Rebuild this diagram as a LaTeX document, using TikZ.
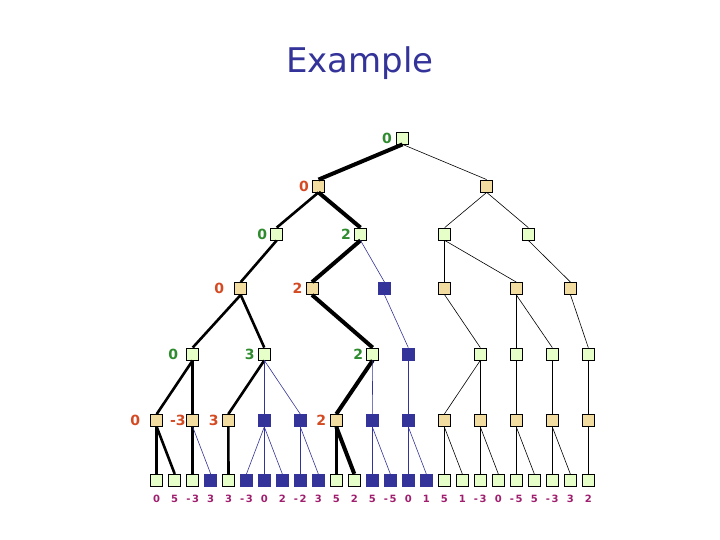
\documentclass[tikz,border=0pt]{standalone}
\usepackage{fontspec}
\setmainfont{DejaVu Sans}
\usepackage{tikz}
\usetikzlibrary{positioning}
\usepackage{xcolor}

\definecolor{navy}{HTML}{333399}
\definecolor{boxgreen}{HTML}{E6FFC8}
\definecolor{boxtan}{HTML}{F2DCA0}
\definecolor{valgreen}{HTML}{2E8B2E}
\definecolor{valred}{HTML}{D44A22}
\definecolor{valpurple}{HTML}{A01E6E}

\tikzset{
	box/.style={rectangle,draw,line width=0.8pt,minimum size=12pt,inner sep=0pt},
	gbox/.style={box,fill=boxgreen},
	tbox/.style={box,fill=boxtan},
	nbox/.style={box,draw=navy,fill=navy},
	gval/.style={inner sep=0pt,text=valgreen,font=\fontsize{14}{14}\selectfont\bfseries},
	rval/.style={inner sep=0pt,text=valred,font=\fontsize{14}{14}\selectfont\bfseries},
	lval/.style={inner sep=0pt,text=valpurple,font=\fontsize{10}{10}\selectfont\bfseries},
	weak/.style={line width=0.6pt},
	pruned/.style={line width=0.6pt,navy},
	strong/.style={line width=2.6pt},
	best/.style={line width=4pt}
}

\begin{document}
\begin{tikzpicture}[x=1pt,y=-1pt]
	\useasboundingbox (0,0) rectangle (720,540);
	\node[anchor=base,text=navy,font=\fontsize{34}{34}\selectfont] (title) at (360,73) {Example};

	% max and min levels of the tree
	\node[gbox] (n0) at (402.5,138) {};
	\node[tbox] (n1a) at (318.5,186) {};
	\node[tbox] (n1b) at (486.7,186) {};
	\node[gbox] (n2a) at (276.7,234) {};
	\node[gbox] (n2b) at (360.5,234) {};
	\node[gbox] (n2c) at (444.7,234) {};
	\node[gbox] (n2d) at (528.3,234) {};
	\node[tbox] (n3a) at (240.7,288.5) {};
	\node[tbox] (n3b) at (312,288.5) {};
	\node[nbox] (n3c) at (384.5,288.5) {};
	\node[tbox] (n3d) at (444.7,288.5) {};
	\node[tbox] (n3e) at (516.3,288.5) {};
	\node[tbox] (n3f) at (570.5,288.5) {};
	\node[gbox] (n4a) at (192.7,354) {};
	\node[gbox] (n4b) at (264.3,354) {};
	\node[gbox] (n4c) at (372.7,354) {};
	\node[nbox] (n4d) at (408.3,354) {};
	\node[gbox] (n4e) at (480.3,354) {};
	\node[gbox] (n4f) at (516.3,354) {};
	\node[gbox] (n4g) at (552.3,354) {};
	\node[gbox] (n4h) at (588.3,354) {};
	\node[tbox] (n5a) at (156.7,420.5) {};
	\node[tbox] (n5b) at (192.7,420.5) {};
	\node[tbox] (n5c) at (228.3,420.5) {};
	\node[nbox] (n5d) at (264.3,420.5) {};
	\node[nbox] (n5e) at (300.3,420.5) {};
	\node[tbox] (n5f) at (336.3,420.5) {};
	\node[nbox] (n5g) at (372.3,420.5) {};
	\node[nbox] (n5h) at (408.3,420.5) {};
	\node[tbox] (n5i) at (444.3,420.5) {};
	\node[tbox] (n5j) at (480.3,420.5) {};
	\node[tbox] (n5k) at (516.3,420.5) {};
	\node[tbox] (n5l) at (552.3,420.5) {};
	\node[tbox] (n5m) at (588.3,420.5) {};

	% backed up values
	\node[gval,left=4pt of n0] (v0) {0};
	\node[rval,left=3pt of n1a] (v1a) {0};
	\node[gval,left=3pt of n2a] (v2a) {0};
	\node[gval,left=3pt of n2b] (v2b) {2};
	\node[rval,left=10pt of n3a] (v3a) {0};
	\node[rval,left=3pt of n3b] (v3b) {2};
	\node[gval,left=8pt of n4a] (v4a) {0};
	\node[gval,left=3pt of n4b] (v4b) {3};
	\node[gval,left=3pt of n4c] (v4c) {2};
	\node[rval,left=10pt of n5a] (v5a) {0};
	\node[rval,left=0.5pt of n5b] (v5b) {-3};
	\node[rval,left=3pt of n5c] (v5c) {3};
	\node[rval,left=3.5pt of n5f] (v5f) {2};

	% leaves with their values
	\node[gbox] (l1) at (156.7,480.3) {};
	\node[gbox] (l2) at (174.7,480.3) {};
	\node[gbox] (l3) at (192.7,480.3) {};
	\node[nbox] (l4) at (210.7,480.3) {};
	\node[gbox] (l5) at (228.5,480.3) {};
	\node[nbox] (l6) at (246.5,480.3) {};
	\node[nbox] (l7) at (264.3,480.3) {};
	\node[nbox] (l8) at (282.3,480.3) {};
	\node[nbox] (l9) at (300.3,480.3) {};
	\node[nbox] (l10) at (318.3,480.3) {};
	\node[gbox] (l11) at (336.3,480.3) {};
	\node[gbox] (l12) at (354.3,480.3) {};
	\node[nbox] (l13) at (372.3,480.3) {};
	\node[nbox] (l14) at (390.3,480.3) {};
	\node[nbox] (l15) at (408.3,480.3) {};
	\node[nbox] (l16) at (426.3,480.3) {};
	\node[gbox] (l17) at (444.3,480.3) {};
	\node[gbox] (l18) at (462.3,480.3) {};
	\node[gbox] (l19) at (480.3,480.3) {};
	\node[gbox] (l20) at (498.3,480.3) {};
	\node[gbox] (l21) at (516.3,480.3) {};
	\node[gbox] (l22) at (534.3,480.3) {};
	\node[gbox] (l23) at (552.3,480.3) {};
	\node[gbox] (l24) at (570.3,480.3) {};
	\node[gbox] (l25) at (588.3,480.3) {};
	\node[lval,below=8pt of l1] (w1) {0};
	\node[lval,below=8pt of l2] (w2) {5};
	\node[lval,below=8pt of l3] (w3) {-\,3};
	\node[lval,below=8pt of l4] (w4) {3};
	\node[lval,below=8pt of l5] (w5) {3};
	\node[lval,below=8pt of l6] (w6) {-\,3};
	\node[lval,below=8pt of l7] (w7) {0};
	\node[lval,below=8pt of l8] (w8) {2};
	\node[lval,below=8pt of l9] (w9) {-\,2};
	\node[lval,below=8pt of l10] (w10) {3};
	\node[lval,below=8pt of l11] (w11) {5};
	\node[lval,below=8pt of l12] (w12) {2};
	\node[lval,below=8pt of l13] (w13) {5};
	\node[lval,below=8pt of l14] (w14) {-\,5};
	\node[lval,below=8pt of l15] (w15) {0};
	\node[lval,below=8pt of l16] (w16) {1};
	\node[lval,below=8pt of l17] (w17) {5};
	\node[lval,below=8pt of l18] (w18) {1};
	\node[lval,below=8pt of l19] (w19) {-\,3};
	\node[lval,below=8pt of l20] (w20) {0};
	\node[lval,below=8pt of l21] (w21) {-\,5};
	\node[lval,below=8pt of l22] (w22) {5};
	\node[lval,below=8pt of l23] (w23) {-\,3};
	\node[lval,below=8pt of l24] (w24) {3};
	\node[lval,below=8pt of l25] (w25) {2};

	% principal variation
	\draw[best] (n0.south) edge (n1a.north);
	\draw[best] (n1a.south) edge (n2b.north);
	\draw[best] (n2b.south) edge (n3b.north);
	\draw[best] (n3b.south) edge (n4c.north);
	\draw[best] (n4c.south) edge (n5f.north);
	\draw[best] (n5f.south) edge (l12.north);

	% searched moves
	\draw[strong] (n1a.south) edge (n2a.north);
	\draw[strong] (n2a.south) edge (n3a.north);
	\draw[strong] (n3a.south) edge (n4a.north) edge (n4b.north);
	\draw[strong] (n4a.south) edge (n5a.north) edge (n5b.north);
	\draw[strong] (n4b.south) edge (n5c.north);
	\draw[strong] (n5a.south) edge (l1.north) edge (l2.north);
	\draw[strong] (n5b.south) edge (l3.north);
	\draw[strong] (n5c.south) edge (l5.north);
	\draw[strong] (n5f.south) edge (l11.north);

	% remaining moves
	\draw[weak] (n0.south) edge (n1b.north);
	\draw[weak] (n1b.south) edge (n2c.north) edge (n2d.north);
	\draw[weak] (n2c.south) edge (n3d.north) edge (n3e.north);
	\draw[weak] (n2d.south) edge (n3f.north);
	\draw[weak] (n3d.south) edge (n4e.north);
	\draw[weak] (n3e.south) edge (n4f.north) edge (n4g.north);
	\draw[weak] (n3f.south) edge (n4h.north);
	\draw[weak] (n4e.south) edge (n5i.north) edge (n5j.north);
	\draw[weak] (n4f.south) edge (n5k.north);
	\draw[weak] (n4g.south) edge (n5l.north);
	\draw[weak] (n4h.south) edge (n5m.north);
	\draw[weak] (n5i.south) edge (l17.north) edge (l18.north);
	\draw[weak] (n5j.south) edge (l19.north) edge (l20.north);
	\draw[weak] (n5k.south) edge (l21.north) edge (l22.north);
	\draw[weak] (n5l.south) edge (l23.north) edge (l24.north);
	\draw[weak] (n5m.south) edge (l25.north);

	% pruned moves
	\draw[pruned] (n2b.south) edge (n3c.north);
	\draw[pruned] (n3c.south) edge (n4d.north);
	\draw[pruned] (n4b.south) edge (n5d.north) edge (n5e.north);
	\draw[pruned] (n4c.south) edge (n5g.north);
	\draw[pruned] (n4d.south) edge (n5h.north);
	\draw[pruned] (n5b.south) edge (l4.north);
	\draw[pruned] (n5d.south) edge (l6.north) edge (l7.north) edge (l8.north);
	\draw[pruned] (n5e.south) edge (l9.north) edge (l10.north);
	\draw[pruned] (n5g.south) edge (l13.north) edge (l14.north);
	\draw[pruned] (n5h.south) edge (l15.north) edge (l16.north);
\end{tikzpicture}
\end{document}
